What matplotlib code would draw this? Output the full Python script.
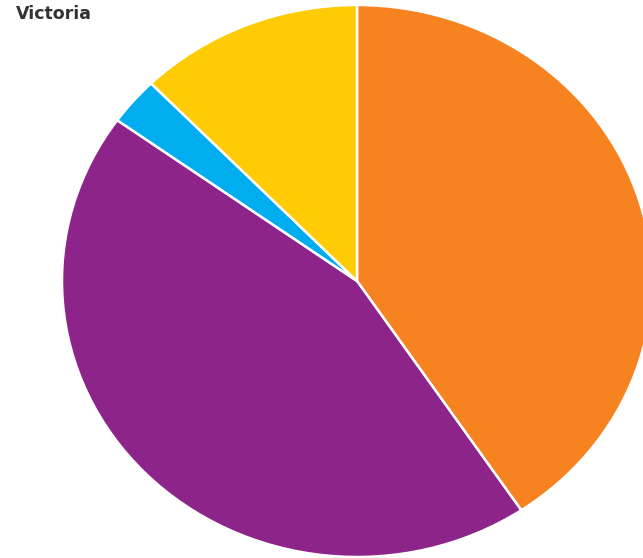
import matplotlib.pyplot as plt

labels = ['Orange', 'Purple', 'Blue', 'Yellow']
shares = [40.6, 44.3, 2.8, 12.3]
colors = ['#F68220', '#8C2489', '#00AEEF', '#FFCB05']

fig = plt.figure(figsize=(6.43, 5.58), dpi=100)
ax = fig.add_axes([0, 0, 1, 1])

ax.pie(shares, colors=colors, startangle=90, counterclock=False,
       wedgeprops=dict(edgecolor='white', linewidth=1.8))

# stretched, partly cropped pie
ax.set_aspect('auto')
ax.set_xlim(-357 / 295, (643 - 357) / 295)
ax.set_ylim(-(558 - 281) / 276, 281 / 276)
ax.axis('off')

fig.text(16 / 643, 1 - 14 / 558, 'Victoria', fontsize=12.5, fontweight='bold',
         color='#333333', ha='left', va='center')

fig.savefig('out.png', dpi=100)
